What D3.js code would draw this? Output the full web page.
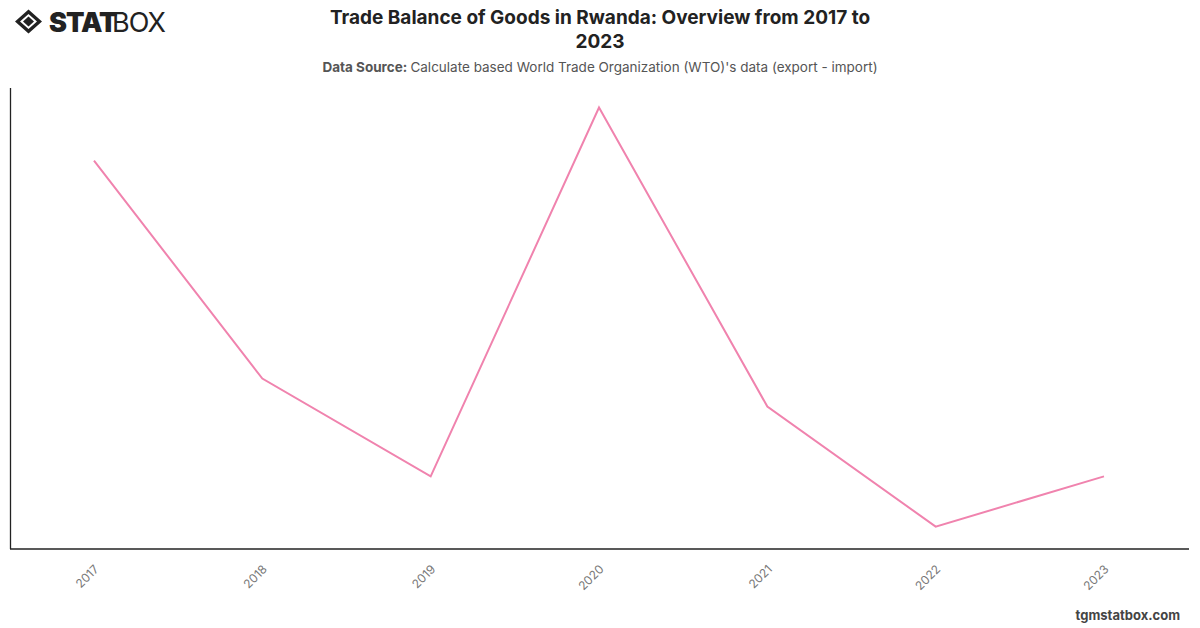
<!DOCTYPE html>
<html><head><meta charset="utf-8">
<script src="https://cdn.jsdelivr.net/npm/d3@7"></script>
<style>
body{margin:0;background:#fff;font-family:Inter,"Noto Sans",sans-serif;}
svg{display:block;}
</style></head><body>
<svg id="chart" width="1200" height="628"></svg>
<script>
const years = ["2017","2018","2019","2020","2021","2022","2023"];
// Trade balance (billion USD)
const balance = [-1.19, -1.97, -2.32, -1.00, -2.07, -2.50, -2.32];
const yDomain = [-2.58, -0.93];

const svg = d3.select("#chart");
const W = 1200, H = 628;
const m = {left:10, right:11, top:88, bottom:79};

const x = d3.scalePoint().domain(years).range([94, 1104]);
const y = d3.scaleLinear().domain(yDomain).range([H - m.bottom, m.top]);

// Logo
const logo = svg.append("g").attr("transform","translate(28.5,21.5)");
logo.append("path").attr("d","M-13.5,0 L0,-12 L13.5,0 L0,12 Z M0,-7.5 L-8.5,0 L0,7.5 L8.5,0 Z").attr("fill","#222").attr("fill-rule","evenodd");
logo.append("path").attr("d","M0,-5 L5.5,0 L0,5 L-5.5,0 Z").attr("fill","#222");
svg.append("text").attr("x",49).attr("y",31.5).attr("font-family","Inter, sans-serif").attr("font-weight",900).attr("font-size",27).attr("fill","#222").attr("letter-spacing","-1").text("STAT");
svg.append("text").attr("x",112).attr("y",31.5).attr("font-family","Inter, sans-serif").attr("font-weight",400).attr("font-size",27).attr("fill","#222").attr("letter-spacing","-1").text("BOX");

// Title
svg.append("text").attr("x",600).attr("y",24).attr("text-anchor","middle").attr("font-weight",700).attr("font-size",19).attr("fill","#222").text("Trade Balance of Goods in Rwanda: Overview from 2017 to");
svg.append("text").attr("x",600).attr("y",48).attr("text-anchor","middle").attr("font-weight",700).attr("font-size",19).attr("fill","#222").text("2023");
const sub = svg.append("text").attr("x",600).attr("y",72).attr("text-anchor","middle").attr("font-size",13.5).attr("fill","#555");
sub.append("tspan").attr("font-weight",700).text("Data Source: ");
sub.append("tspan").text("Calculate based World Trade Organization (WTO)'s data (export - import)");

// Axes
const xAxis = svg.append("g").attr("transform",`translate(0,${H - m.bottom})`)
  .call(d3.axisBottom(x).tickSize(0).tickPadding(0));
xAxis.select(".domain").remove();
xAxis.append("line").attr("x1",m.left).attr("x2",W - m.right).attr("y1",0).attr("y2",0).attr("stroke","#222").attr("stroke-width",1.3);
xAxis.selectAll(".tick text")
  .attr("font-family","Inter, sans-serif").attr("font-size",12).attr("fill","#777")
  .attr("text-anchor","end").attr("dy",null)
  .attr("transform","translate(5,21) rotate(-45)");

svg.append("line").attr("x1",m.left+0.5).attr("x2",m.left+0.5).attr("y1",m.top).attr("y2",H - m.bottom).attr("stroke","#222").attr("stroke-width",1.3);

// Line
const line = d3.line().x((d,i)=>x(years[i])).y(d=>y(d));
svg.append("path").datum(balance).attr("d",line).attr("fill","none").attr("stroke","#f083ae").attr("stroke-width",2);

// Footer
svg.append("text").attr("x",1180).attr("y",620).attr("text-anchor","end").attr("font-weight",700).attr("font-size",13).attr("fill","#444").text("tgmstatbox.com");
</script>
</body></html>
